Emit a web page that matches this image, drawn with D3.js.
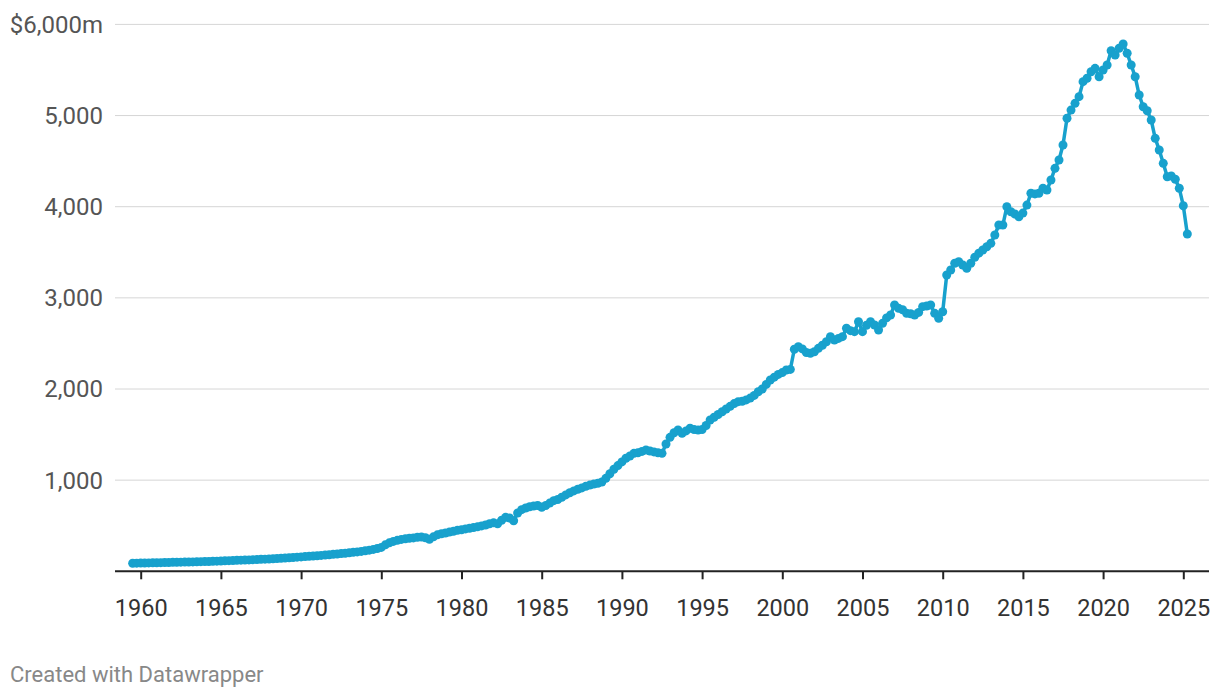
<!DOCTYPE html>
<html>
<head>
<meta charset="utf-8">
<script src="https://cdn.jsdelivr.net/npm/d3@7"></script>
<style>
  body { margin: 0; background: #fff; font-family: Roboto, "Noto Sans", sans-serif; }
</style>
</head>
<body>
<svg id="chart"></svg>
<script>
// quarterly values, $m, starting 1959 Q3
const q1950s = [88, 89];
const q1960s = [
  90, 91, 92, 93, 94, 95, 96, 97, 98, 99, 100, 101, 102, 103, 104, 106,
  107, 108, 110, 111, 113, 115, 117, 118, 120, 122, 124, 125, 127, 129, 131, 133,
  135, 138, 140, 142, 145, 148, 151, 155
];
const q1970s = [
  158, 161, 164, 167, 170, 174, 178, 182, 186, 190, 194, 198, 203, 208, 213, 218,
  225, 232, 240, 250, 262, 290, 312, 328, 340, 350, 356, 362, 366, 374, 376, 368,
  352, 378, 400, 412, 420, 430, 440, 450
];
const q1980s = [
  456, 465, 472, 480, 488, 498, 508, 522, 532, 522, 560, 592, 585, 555, 640, 676,
  695, 708, 716, 722, 702, 722, 748, 775, 788, 812, 838, 862, 882, 900, 915, 932,
  946, 958, 966, 980, 1020, 1070, 1120, 1160
];
const q1990s = [
  1200, 1240, 1265, 1294, 1300, 1315, 1331, 1320, 1310, 1300, 1294, 1397,
  1470, 1520, 1550, 1514, 1540, 1569, 1555, 1550, 1555, 1600, 1660, 1690,
  1720, 1751, 1780, 1810, 1840, 1861, 1865, 1880, 1900, 1930, 1970, 2000,
  2050, 2099, 2130, 2160
];
const q2000s = [
  2180, 2209, 2215, 2436, 2464, 2440, 2400, 2392, 2409, 2446, 2480, 2519,
  2574, 2538, 2555, 2574, 2666, 2640, 2629, 2738, 2629, 2700, 2738, 2702,
  2647, 2720, 2780, 2812, 2922, 2885, 2870, 2830, 2825, 2812, 2840, 2903,
  2910, 2922, 2830, 2776
];
const q2010s = [
  2848, 3251, 3306, 3379, 3397, 3360, 3324, 3380, 3445, 3490, 3525, 3561,
  3598, 3690, 3799, 3799, 4000, 3945, 3920, 3890, 3930, 4018, 4147, 4140,
  4147, 4202, 4183, 4293, 4421, 4512, 4677, 4970, 5060, 5134, 5207, 5372,
  5409, 5481, 5518, 5426
];
const q2020s = [
  5500, 5554, 5711, 5664, 5738, 5785, 5683, 5554, 5426, 5225, 5097, 5053,
  4951, 4750, 4622, 4476, 4329, 4337, 4301, 4202, 4011, 3700
];
const startYear = 1959.5;

const yTicks = [1000, 2000, 3000, 4000, 5000, 6000];
const xTicks = [1960, 1965, 1970, 1975, 1980, 1985, 1990, 1995, 2000, 2005, 2010, 2015, 2020, 2025];

const values = [].concat(q1950s, q1960s, q1970s, q1980s, q1990s, q2000s, q2010s, q2020s);
const data = values.map((v, i) => ({ t: startYear + i * 0.25, v: v }));

const width = 1220, height = 698;
const color = "#18a1cd";

const svg = d3.select("#chart")
  .attr("width", width)
  .attr("height", height);

const x = d3.scaleLinear()
  .domain([1960, 2025])
  .range([140.7, 1183.3]);

const y = d3.scaleLinear()
  .domain([0, 6000])
  .range([571.3, 24.4]);

// gridlines
svg.append("g")
  .selectAll("line")
  .data(yTicks)
  .enter()
  .append("line")
  .attr("x1", 115)
  .attr("x2", 1209)
  .attr("y1", d => y(d))
  .attr("y2", d => y(d))
  .attr("stroke", "#d6d6d6")
  .attr("stroke-width", 1);

// y labels
svg.append("g")
  .selectAll("text")
  .data(yTicks)
  .enter()
  .append("text")
  .attr("x", 103)
  .attr("y", d => y(d))
  .attr("dy", "0.35em")
  .attr("text-anchor", "end")
  .style("font-size", "24px")
  .style("fill", "#555")
  .text(d => d === 6000 ? "$" + d3.format(",")(d) + "m" : d3.format(",")(d));

// x axis
const xAxis = svg.append("g")
  .attr("transform", `translate(0,${y(0)})`)
  .call(d3.axisBottom(x).tickValues(xTicks).tickFormat(d3.format("d")).tickSize(8).tickPadding(20));

xAxis.select(".domain").remove();
xAxis.append("line")
  .attr("x1", 115)
  .attr("x2", 1209)
  .attr("stroke", "#222")
  .attr("stroke-width", 2);
xAxis.selectAll(".tick line")
  .attr("stroke", "#222")
  .attr("stroke-width", 2);
xAxis.selectAll(".tick text")
  .style("font-family", "Roboto, sans-serif")
  .style("font-size", "23.5px")
  .style("fill", "#333");

// line
const line = d3.line()
  .x(d => x(d.t))
  .y(d => y(d.v));

svg.append("path")
  .datum(data)
  .attr("fill", "none")
  .attr("stroke", color)
  .attr("stroke-width", 3.5)
  .attr("stroke-linejoin", "round")
  .attr("d", line);

svg.append("g")
  .selectAll("circle")
  .data(data)
  .enter()
  .append("circle")
  .attr("cx", d => x(d.t))
  .attr("cy", d => y(d.v))
  .attr("r", 4.5)
  .attr("fill", color);

// footer
svg.append("text")
  .attr("x", 10)
  .attr("y", 682)
  .style("font-size", "22px")
  .style("fill", "#888")
  .text("Created with Datawrapper");
</script>
</body>
</html>
